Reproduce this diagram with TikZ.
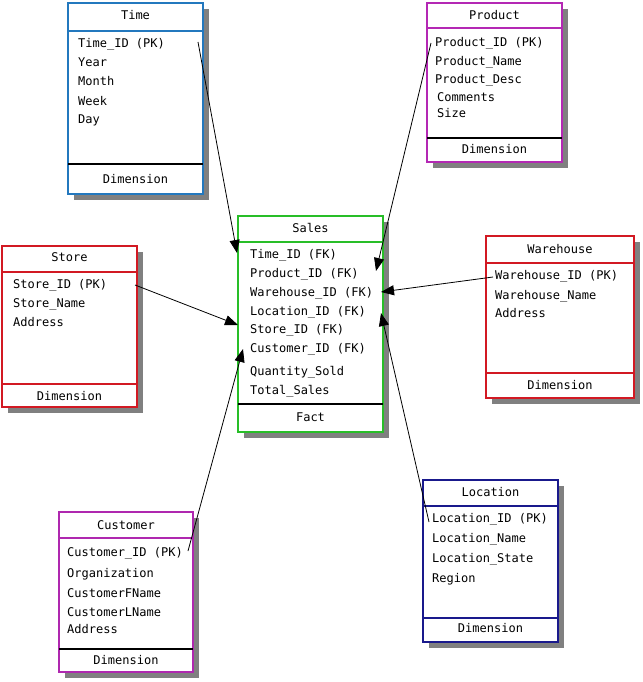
\documentclass[tikz,border=0pt]{standalone}
\usepackage{fontspec}
\setmonofont{DejaVu Sans Mono}
\usetikzlibrary{arrows.meta}
\definecolor{timec}{RGB}{35,120,190}
\definecolor{prodc}{RGB}{180,40,180}
\definecolor{salesc}{RGB}{40,190,40}
\definecolor{redc}{RGB}{210,25,35}
\definecolor{custc}{RGB}{175,40,175}
\definecolor{locc}{RGB}{25,25,140}
\definecolor{shadowc}{RGB}{128,128,128}
\tikzset{
  boxnode/.style={draw, line width=2.5pt, fill=white, inner sep=0pt, outer sep=0pt, anchor=north west},
  shadowbox/.style={fill=shadowc},
  rule/.style={line width=2.5pt},
  sepline/.style={line width=2.5pt, black},
  lbl/.style={font=\ttfamily\fontsize{12}{12}\selectfont, inner sep=0pt, anchor=center},
  item/.style={font=\ttfamily\fontsize{12}{12}\selectfont, inner sep=0pt, anchor=west},
  fk/.style={line width=0.8pt, -{Triangle[length=13pt,width=10pt]}}
}
\begin{document}
\begin{tikzpicture}[x=1pt,y=-1pt]
\useasboundingbox (0,0) rectangle (642,682);
% ---------- Time ----------
\fill[shadowbox] (74,9) rectangle (209,200);
\node[boxnode, draw=timec, minimum width=135pt, minimum height=191pt] (time) at (68,3) {};
\draw[rule, timec] (68,31) -- (203,31);
\draw[sepline] (68,164) -- (203,164);
\node[lbl] (timet) at (135.5,15) {Time};
\node[item] (t1) at (78,44) {Time\_ID (PK)};
\node[item] (t2) at (78,62) {Year};
\node[item] (t3) at (78,81) {Month};
\node[item] (t4) at (78,101) {Week};
\node[item] (t5) at (78,120) {Day};
\node[lbl] (timef) at (135.5,179) {Dimension};
% ---------- Product ----------
\fill[shadowbox] (433,9) rectangle (568,168);
\node[boxnode, draw=prodc, minimum width=135pt, minimum height=159pt] (prod) at (427,3) {};
\draw[rule, prodc] (427,28) -- (562,28);
\draw[sepline] (427,138) -- (562,138);
\node[lbl] (prodt) at (494.5,15) {Product};
\node[item] (p1) at (435,43) {Product\_ID (PK)};
\node[item] (p2) at (435,62) {Product\_Name};
\node[item] (p3) at (435,80) {Product\_Desc};
\node[item] (p4) at (437,97) {Comments};
\node[item] (p5) at (437,113) {Size};
\node[lbl] (prodf) at (494.5,149) {Dimension};
% ---------- Sales ----------
\fill[shadowbox] (244,222) rectangle (389,438);
\node[boxnode, draw=salesc, minimum width=145pt, minimum height=216pt] (sales) at (238,216) {};
\draw[rule, salesc] (238,242) -- (383,242);
\draw[sepline] (238,404) -- (383,404);
\node[lbl] (salest) at (310.5,228) {Sales};
\node[item] (s1) at (250,255) {Time\_ID (FK)};
\node[item] (s2) at (250,274) {Product\_ID (FK)};
\node[item] (s3) at (250,293) {Warehouse\_ID (FK)};
\node[item] (s4) at (250,312) {Location\_ID (FK)};
\node[item] (s5) at (250,330) {Store\_ID (FK)};
\node[item] (s6) at (250,349) {Customer\_ID (FK)};
\node[item] (s7) at (250,372) {Quantity\_Sold};
\node[item] (s8) at (250,391) {Total\_Sales};
\node[lbl] (salesf) at (310.5,417) {Fact};
% ---------- Store ----------
\fill[shadowbox] (8,252) rectangle (143,413);
\node[boxnode, draw=redc, minimum width=135pt, minimum height=161pt] (store) at (2,246) {};
\draw[rule, redc] (2,272) -- (137,272);
\draw[rule, redc] (2,384) -- (137,384);
\node[lbl] (storet) at (69.5,257) {Store};
\node[item] (st1) at (13,285) {Store\_ID (PK)};
\node[item] (st2) at (13,304) {Store\_Name};
\node[item] (st3) at (13,322) {Address};
\node[lbl] (storef) at (69.5,396) {Dimension};
% ---------- Warehouse ----------
\fill[shadowbox] (492,242) rectangle (640,404);
\node[boxnode, draw=redc, minimum width=148pt, minimum height=162pt] (wh) at (486,236) {};
\draw[rule, redc] (486,263) -- (634,263);
\draw[rule, redc] (486,373) -- (634,373);
\node[lbl] (wht) at (560,249) {Warehouse};
\node[item] (w1) at (495,276) {Warehouse\_ID (PK)};
\node[item] (w2) at (495,296) {Warehouse\_Name};
\node[item] (w3) at (495,313) {Address};
\node[lbl] (whf) at (560,385) {Dimension};
% ---------- Customer ----------
\fill[shadowbox] (65,518) rectangle (199,678);
\node[boxnode, draw=custc, minimum width=134pt, minimum height=160pt] (cust) at (59,512) {};
\draw[rule, custc] (59,538) -- (193,538);
\draw[sepline] (59,649) -- (193,649);
\node[lbl] (custt) at (126,525) {Customer};
\node[item] (c1) at (67,553) {Customer\_ID (PK)};
\node[item] (c2) at (67,574) {Organization};
\node[item] (c3) at (67,593) {CustomerFName};
\node[item] (c4) at (67,612) {CustomerLName};
\node[item] (c5) at (67,629) {Address};
\node[lbl] (custf) at (126,660) {Dimension};
% ---------- Location ----------
\fill[shadowbox] (429,486) rectangle (564,648);
\node[boxnode, draw=locc, minimum width=135pt, minimum height=162pt] (loc) at (423,480) {};
\draw[rule, locc] (423,506) -- (558,506);
\draw[rule, locc] (423,618) -- (558,618);
\node[lbl] (loct) at (490.5,492) {Location};
\node[item] (l1) at (432,519) {Location\_ID (PK)};
\node[item] (l2) at (432,539) {Location\_Name};
\node[item] (l3) at (432,559) {Location\_State};
\node[item] (l4) at (432,579) {Region};
\node[lbl] (locf) at (490.5,628) {Dimension};
% ---------- connector ends ----------
\coordinate (timeA) at (198,42);
\coordinate (salesT) at (237,253);
\coordinate (prodA) at (431,43);
\coordinate (salesP) at (376,271);
\coordinate (whA) at (493,277);
\coordinate (salesW) at (381,292);
\coordinate (locA) at (429,522);
\coordinate (salesL) at (381,313);
\coordinate (storeA) at (135,285);
\coordinate (salesS) at (238,325);
\coordinate (custA) at (188,551);
\coordinate (salesC) at (243,349);
\draw[fk] (timeA) -- (salesT);
\draw[fk] (prodA) -- (salesP);
\draw[fk] (whA) -- (salesW);
\draw[fk] (locA) -- (salesL);
\draw[fk] (storeA) -- (salesS);
\draw[fk] (custA) -- (salesC);
\end{tikzpicture}
\end{document}
